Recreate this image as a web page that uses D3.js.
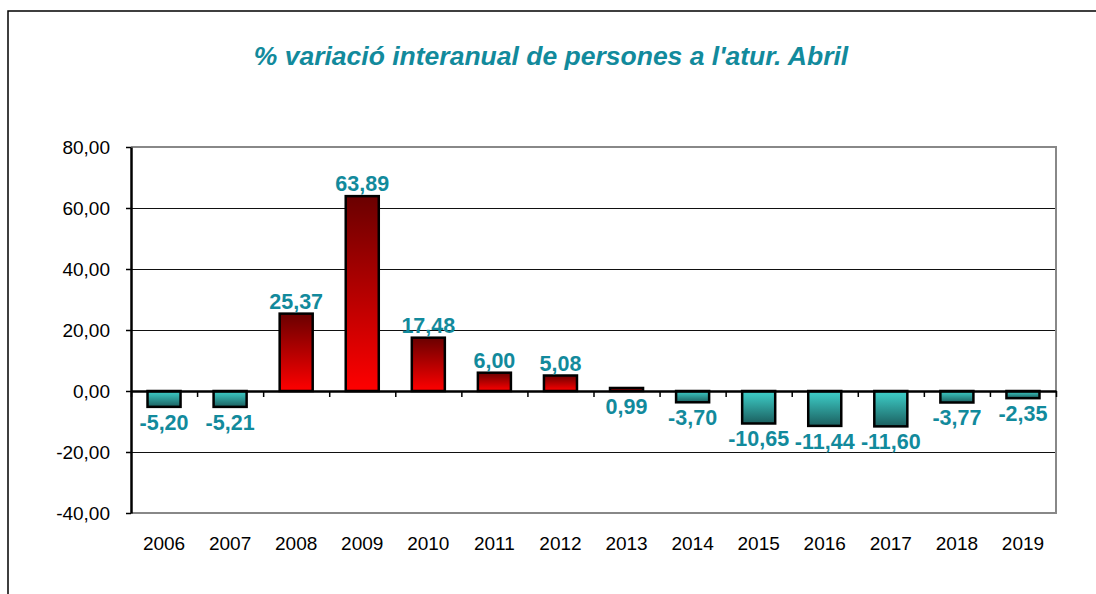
<!DOCTYPE html>
<html>
<head>
<meta charset="utf-8">
<script src="https://cdn.jsdelivr.net/npm/d3@7"></script>
<style>
    body { margin: 0; background: #fff; }
    svg { display: block; font-family: Arial, "Liberation Sans", sans-serif; }
</style>
</head>
<body>
<div id="chart"></div>
<script>
const years = ['2006', '2007', '2008', '2009', '2010', '2011', '2012', '2013', '2014', '2015', '2016', '2017', '2018', '2019'];
const values = [-5.20, -5.21, 25.37, 63.89, 17.48, 6.00, 5.08, 0.99, -3.70, -10.65, -11.44, -11.60, -3.77, -2.35];
const yTicks = [-40, -20, 0, 20, 40, 60, 80];
const title = "% variació interanual de persones a l'atur. Abril";

const data = years.map((y, i) => ({ year: y, v: values[i] }));

const W = 1096, H = 594;
const margin = { top: 147, right: 40, bottom: 81, left: 131 },
      width  = 1056 - margin.left,
      height = H - margin.top - margin.bottom;

const loc = d3.formatLocale({ decimal: ',', thousands: '.', grouping: [3], currency: ['', ''], minus: '-' });
const fmt = loc.format('.2f');

const svg = d3.select('#chart').append('svg')
    .attr('width', W).attr('height', H);

const defs = svg.append('defs');
const red = defs.append('linearGradient').attr('id', 'gRed').attr('x1', 0).attr('y1', 0).attr('x2', 0).attr('y2', 1);
red.append('stop').attr('offset', '0%').attr('stop-color', '#6a0000');
red.append('stop').attr('offset', '100%').attr('stop-color', '#ff0000');
const teal = defs.append('linearGradient').attr('id', 'gTeal').attr('x1', 0).attr('y1', 0).attr('x2', 0).attr('y2', 1);
teal.append('stop').attr('offset', '0%').attr('stop-color', '#3fd2cc');
teal.append('stop').attr('offset', '100%').attr('stop-color', '#1b5f5f');

// cadre extérieur
svg.append('rect')
    .attr('x', 8).attr('y', 11).attr('width', W).attr('height', H)
    .attr('fill', 'none').attr('stroke', '#000').attr('stroke-width', 1.5);

svg.append('text')
    .attr('x', 551).attr('y', 65)
    .attr('text-anchor', 'middle')
    .attr('font-size', 26.5).attr('font-weight', 'bold').attr('font-style', 'italic')
    .attr('fill', '#128a9c')
    .text(title);

const g = svg.append('g').attr('transform', `translate(${margin.left},${margin.top})`);

const x = d3.scaleBand().domain(years).range([0, width]).paddingInner(0.5).paddingOuter(0.25);
const y = d3.scaleLinear().domain([-40, 80]).range([height, 0]);
const xi = d3.scaleLinear().domain([0, years.length]).range([0, width]);

// grille
g.selectAll('.grid')
    .data(yTicks.filter(t => t !== 0 && t !== -40 && t !== 80))
    .enter().append('line')
    .attr('x1', 0).attr('x2', width)
    .attr('y1', d => Math.round(y(d)) + 0.5).attr('y2', d => Math.round(y(d)) + 0.5)
    .attr('stroke', '#111').attr('stroke-width', 1.2);

// bord de la zone
g.append('path')
    .attr('d', `M0,${y(80)}H${width}V${y(-40)}H0`)
    .attr('fill', 'none').attr('stroke', '#888').attr('stroke-width', 2);

// barres
g.selectAll('.bar')
    .data(data)
    .enter().append('rect')
    .attr('x', d => x(d.year))
    .attr('width', x.bandwidth())
    .attr('y', d => y(Math.max(0, d.v)))
    .attr('height', d => Math.abs(y(d.v) - y(0)))
    .attr('fill', d => d.v >= 0 ? 'url(#gRed)' : 'url(#gTeal)')
    .attr('stroke', '#000').attr('stroke-width', 2.5);

// axe zéro avec graduations
const zeroAxis = g.append('g')
    .attr('transform', `translate(0,${y(0)})`)
    .call(d3.axisBottom(xi).tickValues(d3.range(years.length + 1)).tickSize(6).tickSizeOuter(0).tickFormat(''));
zeroAxis.select('.domain').attr('stroke', '#000').attr('stroke-width', 2.5);
zeroAxis.selectAll('.tick line').attr('stroke', '#000').attr('stroke-width', 1.5);

// axe Y
const yAxis = g.append('g')
    .call(d3.axisLeft(y).tickValues(yTicks).tickSize(5).tickSizeOuter(0).tickPadding(16).tickFormat(fmt));
yAxis.select('.domain').attr('stroke', '#000').attr('stroke-width', 2.5);
yAxis.selectAll('.tick line').attr('stroke', '#000').attr('stroke-width', 1.5);
yAxis.selectAll('.tick text').attr('font-size', 19).attr('fill', '#000').attr('font-family', 'Arial, "Liberation Sans", sans-serif');

// libellés X
g.selectAll('.xlab')
    .data(data)
    .enter().append('text')
    .attr('x', d => x(d.year) + x.bandwidth() / 2)
    .attr('y', height + 37)
    .attr('text-anchor', 'middle')
    .attr('font-size', 19)
    .text(d => d.year);

// étiquettes de valeur
g.selectAll('.vlab')
    .data(data)
    .enter().append('text')
    .attr('x', d => x(d.year) + x.bandwidth() / 2)
    .attr('y', d => d.v >= 1 ? y(d.v) - 5 : y(Math.min(0, d.v)) + 23)
    .attr('text-anchor', 'middle')
    .attr('font-size', 21.5).attr('font-weight', 'bold')
    .attr('fill', '#128a9c')
    .text(d => fmt(d.v));
</script>
</body>
</html>
